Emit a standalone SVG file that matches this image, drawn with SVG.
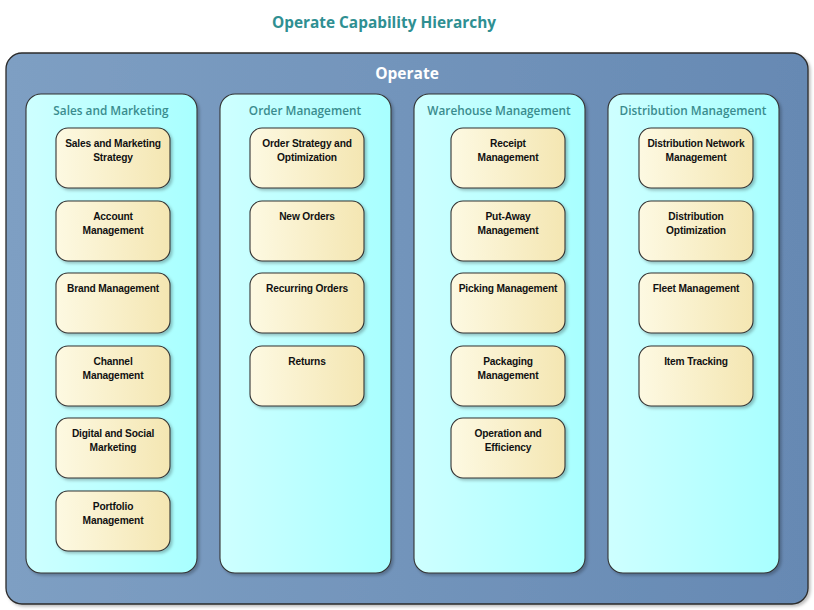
<svg xmlns="http://www.w3.org/2000/svg" width="814" height="610" viewBox="0 0 814 610">
<defs>
<linearGradient id="gOuter" x1="0" y1="0" x2="1" y2="0">
<stop offset="0" stop-color="#7e9fc3"/><stop offset="1" stop-color="#6689b3"/>
</linearGradient>
<linearGradient id="gCol" x1="0" y1="0" x2="1" y2="0">
<stop offset="0" stop-color="#ceffff"/><stop offset="1" stop-color="#a8ffff"/>
</linearGradient>
<linearGradient id="gNode" x1="0" y1="0" x2="1" y2="0">
<stop offset="0" stop-color="#fdf9e2"/><stop offset="1" stop-color="#f4e6b2"/>
</linearGradient>
<filter id="sh" x="-10%" y="-10%" width="130%" height="130%">
<feDropShadow dx="2" dy="2" stdDeviation="1.5" flood-color="#000" flood-opacity="0.25"/>
</filter>
</defs>
<style>
.outer{fill:url(#gOuter);stroke:#2b2b2b;stroke-width:1.3;filter:url(#sh)}
.col{fill:url(#gCol);stroke:#333;stroke-width:1.1;filter:url(#sh)}
.node{fill:url(#gNode);stroke:#333;stroke-width:1.1;filter:url(#sh)}
.title{font-family:"Open Sans","Liberation Sans",sans-serif;font-weight:bold;font-size:15.4px;fill:#2f8f92;text-anchor:middle}
.otitle{font-family:"Open Sans","Liberation Sans",sans-serif;font-weight:bold;font-size:15.5px;fill:#ffffff;text-anchor:middle}
.ctitle{font-family:"Open Sans","Liberation Sans",sans-serif;font-weight:600;font-size:11.8px;fill:#3a8c8e;text-anchor:middle}
.nt{font-family:"Liberation Sans",sans-serif;font-weight:bold;font-size:10.2px;fill:#111;text-anchor:middle;letter-spacing:-0.15px}
</style>
<text class="title" x="384" y="28">Operate Capability Hierarchy</text>
<g id="operate">
<rect class="outer" x="6" y="53" width="802" height="551" rx="16"/>
<text class="otitle" x="407" y="79">Operate</text>
</g>
<g id="sales-and-marketing">
<rect class="col" x="26" y="94" width="171" height="479" rx="15"/>
<text class="ctitle" x="111" y="115">Sales and Marketing</text>
</g>
<g id="order-management">
<rect class="col" x="220" y="94" width="171" height="479" rx="15"/>
<text class="ctitle" x="305" y="115">Order Management</text>
</g>
<g id="warehouse-management">
<rect class="col" x="414" y="94" width="171" height="479" rx="15"/>
<text class="ctitle" x="499" y="115">Warehouse Management</text>
</g>
<g id="distribution-management">
<rect class="col" x="608" y="94" width="171" height="479" rx="15"/>
<text class="ctitle" x="693" y="115">Distribution Management</text>
</g>
<g id="connectors"></g>
<g id="n-sms"><rect class="node" x="56" y="128" width="114" height="60" rx="12"/><text class="nt" x="113" y="147">Sales and Marketing</text><text class="nt" x="113" y="161">Strategy</text></g>
<g id="n-am"><rect class="node" x="56" y="201" width="114" height="60" rx="12"/><text class="nt" x="113" y="220">Account</text><text class="nt" x="113" y="234">Management</text></g>
<g id="n-bm"><rect class="node" x="56" y="273" width="114" height="60" rx="12"/><text class="nt" x="113" y="292">Brand Management</text></g>
<g id="n-cm"><rect class="node" x="56" y="346" width="114" height="60" rx="12"/><text class="nt" x="113" y="365">Channel</text><text class="nt" x="113" y="379">Management</text></g>
<g id="n-dsm"><rect class="node" x="56" y="418" width="114" height="60" rx="12"/><text class="nt" x="113" y="437">Digital and Social</text><text class="nt" x="113" y="451">Marketing</text></g>
<g id="n-pm"><rect class="node" x="56" y="491" width="114" height="60" rx="12"/><text class="nt" x="113" y="510">Portfolio</text><text class="nt" x="113" y="524">Management</text></g>
<g id="n-oso"><rect class="node" x="250" y="128" width="114" height="60" rx="12"/><text class="nt" x="307" y="147">Order Strategy and</text><text class="nt" x="307" y="161">Optimization</text></g>
<g id="n-no"><rect class="node" x="250" y="201" width="114" height="60" rx="12"/><text class="nt" x="307" y="220">New Orders</text></g>
<g id="n-ro"><rect class="node" x="250" y="273" width="114" height="60" rx="12"/><text class="nt" x="307" y="292">Recurring Orders</text></g>
<g id="n-ret"><rect class="node" x="250" y="346" width="114" height="60" rx="12"/><text class="nt" x="307" y="365">Returns</text></g>
<g id="n-rm"><rect class="node" x="451" y="128" width="114" height="60" rx="12"/><text class="nt" x="508" y="147">Receipt</text><text class="nt" x="508" y="161">Management</text></g>
<g id="n-pam"><rect class="node" x="451" y="201" width="114" height="60" rx="12"/><text class="nt" x="508" y="220">Put-Away</text><text class="nt" x="508" y="234">Management</text></g>
<g id="n-pim"><rect class="node" x="451" y="273" width="114" height="60" rx="12"/><text class="nt" x="508" y="292">Picking Management</text></g>
<g id="n-pkm"><rect class="node" x="451" y="346" width="114" height="60" rx="12"/><text class="nt" x="508" y="365">Packaging</text><text class="nt" x="508" y="379">Management</text></g>
<g id="n-oe"><rect class="node" x="451" y="418" width="114" height="60" rx="12"/><text class="nt" x="508" y="437">Operation and</text><text class="nt" x="508" y="451">Efficiency</text></g>
<g id="n-dnm"><rect class="node" x="639" y="128" width="114" height="60" rx="12"/><text class="nt" x="696" y="147">Distribution Network</text><text class="nt" x="696" y="161">Management</text></g>
<g id="n-do"><rect class="node" x="639" y="201" width="114" height="60" rx="12"/><text class="nt" x="696" y="220">Distribution</text><text class="nt" x="696" y="234">Optimization</text></g>
<g id="n-fm"><rect class="node" x="639" y="273" width="114" height="60" rx="12"/><text class="nt" x="696" y="292">Fleet Management</text></g>
<g id="n-it"><rect class="node" x="639" y="346" width="114" height="60" rx="12"/><text class="nt" x="696" y="365">Item Tracking</text></g>
</svg>
